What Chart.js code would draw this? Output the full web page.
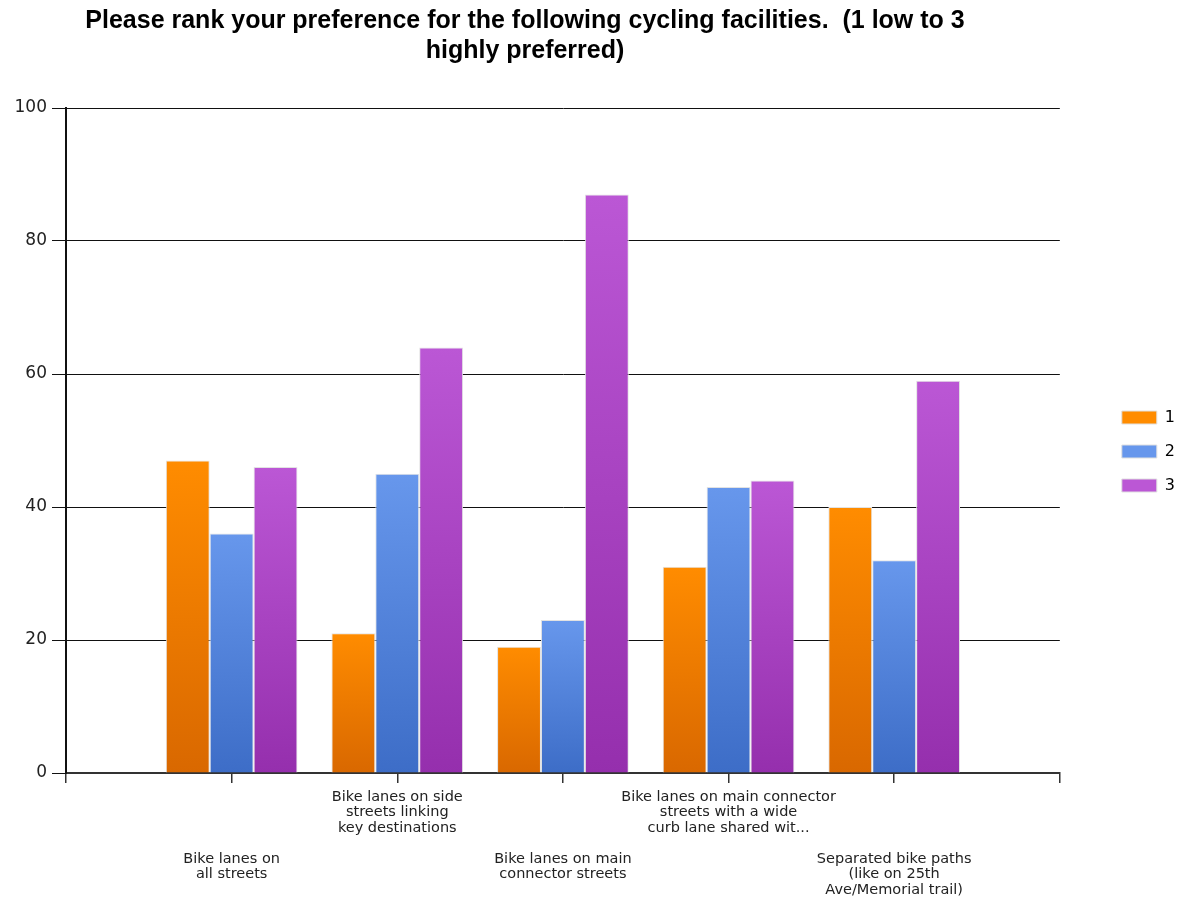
<!DOCTYPE html>
<html>
<head>
<meta charset="utf-8">
<script src="https://cdn.jsdelivr.net/npm/chart.js@4.4.1/dist/chart.umd.min.js"></script>
<style>
	html, body { margin: 0; padding: 0; background: #fff; }
	#wrap { width: 1189px; height: 903px; }
</style>
</head>
<body>
<div id="wrap"><canvas id="chart"></canvas></div>
<script>
let titleLines = [
	'Please rank your preference for the following cycling facilities.  (1 low to 3',
	'highly preferred)'
];

// lower-row labels get blank lines in front so they sit under the upper row
let categories = [
	['', '', '', '', 'Bike lanes on', 'all streets'],
	['Bike lanes on side', 'streets linking', 'key destinations'],
	['', '', '', '', 'Bike lanes on main', 'connector streets'],
	['Bike lanes on main connector', 'streets with a wide', 'curb lane shared wit...'],
	['', '', '', '', 'Separated bike paths', '(like on 25th', 'Ave/Memorial trail)']
];

let seriesNames = ['1', '2', '3'];
let rank1 = [47, 21, 19, 31, 40];
let rank2 = [36, 45, 23, 43, 32];
let rank3 = [46, 64, 87, 44, 59];

let yTicks = [0, 20, 40, 60, 80, 100];

let palette = [
	['#ff8c00', '#d96800'],
	['#6797ec', '#3d6dc7'],
	['#bb57d5', '#952fad']
];

// empty slot on each side of the five groups
function pad(arr) {
	return [null].concat(arr, [null]);
}

function barFill(i) {
	return (ctx) => {
		let chart = ctx.chart;
		let y = chart.scales.y;
		if (!chart.chartArea || !y || ctx.parsed == null || ctx.parsed.y == null) {
			return palette[i][0];
		}
		let top = y.getPixelForValue(ctx.parsed.y);
		let bottom = y.getPixelForValue(0);
		if (!isFinite(top) || top === bottom) {
			return palette[i][0];
		}
		let g = chart.ctx.createLinearGradient(0, top, 0, bottom);
		g.addColorStop(0, palette[i][0]);
		g.addColorStop(1, palette[i][1]);
		return g;
	};
}

// title band on top (text centred a bit left of the plot) and a gap before the legend
let framePlugin = {
	id: 'frame',
	beforeInit(chart) {
		Chart.layouts.addBox(chart, {
			position: 'top',
			weight: 2000,
			fullSize: true,
			options: {},
			isHorizontal() { return true; },
			update(maxWidth) {
				this.width = maxWidth;
				this.height = 108;
			},
			draw() {
				let c = chart.ctx;
				c.save();
				c.font = 'bold 25px "Liberation Sans", Arial, sans-serif';
				c.fillStyle = '#000';
				c.textAlign = 'center';
				c.textBaseline = 'middle';
				titleLines.forEach((line, k) => c.fillText(line, 525, 21 + k * 30));
				c.restore();
			}
		});
		Chart.layouts.addBox(chart, {
			position: 'right',
			weight: 500,
			fullSize: false,
			options: {},
			isHorizontal() { return false; },
			update(maxWidth, maxHeight) {
				this.width = 44;
				this.height = maxHeight;
			},
			draw() {}
		});
	}
};

let series = [rank1, rank2, rank3];

function main() {
	let ctx = document.getElementById('chart').getContext('2d');
	new Chart(ctx, {
		type: 'bar',
		data: {
			labels: [''].concat(categories, ['']),
			datasets: series.map((values, i) => ({
				label: seriesNames[i],
				data: pad(values),
				backgroundColor: barFill(i),
				borderColor: '#e2e2e2',
				borderWidth: 1,
				categoryPercentage: 0.795,
				barPercentage: 1
			}))
		},
		options: {
			responsive: true,
			maintainAspectRatio: false,
			animation: false,
			layout: {
				padding: { top: 0, right: 4, bottom: 0, left: 0 }
			},
			plugins: {
				title: { display: false },
				tooltip: { enabled: false },
				legend: {
					position: 'right',
					labels: {
						boxWidth: 35,
						boxHeight: 13,
						padding: 18,
						color: '#222',
						font: { family: 'DejaVu Sans', size: 16 },
						generateLabels(chart) {
							return chart.data.datasets.map((ds, i) => ({
								text: ds.label,
								fillStyle: palette[i][0],
								strokeStyle: '#e0e0e0',
								lineWidth: 1,
								datasetIndex: i
							}));
						}
					}
				}
			},
			scales: {
				x: {
					offset: false,
					afterFit(scale) {
						scale.height = 130;
					},
					border: { color: '#333', width: 2 },
					grid: {
						offset: false,
						drawOnChartArea: false,
						drawTicks: true,
						tickLength: 10,
						color: '#333',
						lineWidth: 1.5
					},
					ticks: {
						autoSkip: false,
						maxRotation: 0,
						padding: 6,
						color: '#222',
						font: { family: 'DejaVu Sans', size: 14.5, lineHeight: '15.5px' }
					}
				},
				y: {
					min: 0,
					max: 100,
					afterBuildTicks(scale) {
						scale.ticks = yTicks.map(v => ({ value: v }));
					},
					afterFit(scale) {
						scale.width = 66;
					},
					border: { color: '#111', width: 2 },
					grid: {
						color: '#111',
						lineWidth: 1,
						tickLength: 14
					},
					ticks: {
						padding: 5,
						color: '#222',
						font: { family: 'DejaVu Sans', size: 17 }
					}
				}
			}
		},
		plugins: [framePlugin]
	});
}

document.addEventListener('DOMContentLoaded', main);
</script>
</body>
</html>
